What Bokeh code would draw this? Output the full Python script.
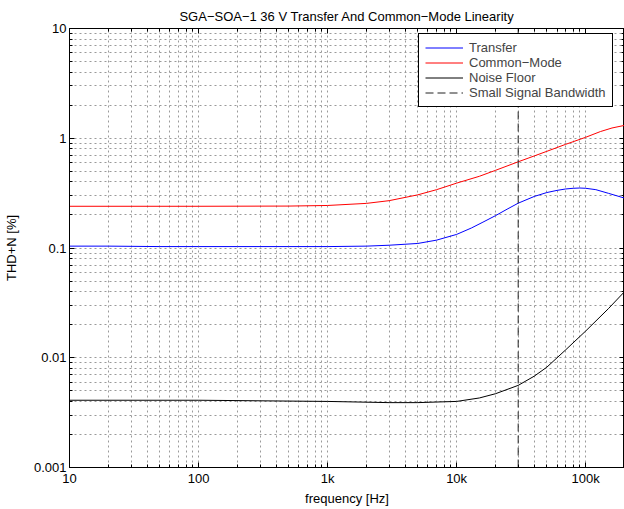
from bokeh.plotting import figure
from bokeh.models import FixedTicker, CustomJSTickFormatter, LogAxis, Legend, LegendItem
from bokeh.embed import file_html
from bokeh.resources import INLINE

# ---- data ----
freq_transfer = [10, 20, 50, 100, 200, 500, 1000, 2000, 3000, 5000, 7000, 10000, 13000, 16000,
                 20000, 25000, 30000, 40000, 50000, 60000, 70000, 80000, 90000, 100000,
                 120000, 150000, 200000]
thd_transfer = [0.104, 0.104, 0.103, 0.103, 0.103, 0.103, 0.103, 0.104, 0.106, 0.110, 0.118, 0.133,
                0.152, 0.172, 0.197, 0.228, 0.256, 0.295, 0.320, 0.335, 0.345, 0.350, 0.352,
                0.350, 0.340, 0.315, 0.285]

freq_cm = [10, 100, 500, 1000, 2000, 3000, 5000, 7000, 10000, 15000, 20000, 30000, 40000,
           50000, 70000, 100000, 130000, 160000, 200000]
thd_cm = [0.240, 0.240, 0.241, 0.244, 0.255, 0.270, 0.305, 0.340, 0.390, 0.450, 0.510, 0.610,
          0.690, 0.760, 0.880, 1.020, 1.150, 1.240, 1.310]

freq_noise = [10, 100, 1000, 3000, 5000, 7000, 10000, 15000, 20000, 30000, 40000, 50000,
              70000, 100000, 150000, 200000]
thd_noise = [0.0041, 0.0041, 0.0040, 0.0039, 0.0039, 0.00395, 0.0040, 0.0043, 0.0047, 0.0056,
             0.0068, 0.0082, 0.0118, 0.0175, 0.028, 0.040]

bandwidth_hz = 30000

x_ticks = [10, 100, 1000, 10000, 100000]
x_labels = ["10", "100", "1k", "10k", "100k"]
y_ticks = [0.001, 0.01, 0.1, 1, 10]
y_labels = ["0.001", "0.01", "0.1", "1", "10"]

x_min, x_max = 10, 200000
y_min, y_max = 0.001, 10

FONT = "Liberation Sans"
FS = "13px"

def minor_for(lo_exp, hi_exp):
    return [k * 10 ** e for e in range(lo_exp, hi_exp) for k in range(2, 10)]

x_minor = minor_for(1, 6)
y_minor = minor_for(-3, 1)

def fmt(ticks, labels):
    return CustomJSTickFormatter(args=dict(t=ticks, l=labels), code="""
        for (let i = 0; i < t.length; i++) {
            if (Math.abs(Math.log10(t[i]) - Math.log10(tick)) < 1e-6) return l[i];
        }
        return '';
    """)

p = figure(width=624, height=509, x_axis_type="log", y_axis_type="log",
           x_range=(x_min, x_max), y_range=(y_min, y_max),
           output_backend="svg", toolbar_location=None,
           title="SGA\u2212SOA\u22121 36 V Transfer And Common\u2212Mode Linearity",
           min_border_left=68, min_border_right=0, min_border_top=28, min_border_bottom=42)

p.title.align = "center"
p.title.text_font = FONT
p.title.text_font_size = FS
p.title.text_font_style = "normal"
p.title.text_color = "black"

p.outline_line_color = "black"
p.outline_line_width = 1
p.background_fill_color = "white"
p.border_fill_color = "white"

xt = FixedTicker(ticks=x_ticks, minor_ticks=x_minor)
yt = FixedTicker(ticks=y_ticks, minor_ticks=y_minor)

for ax, t, lab, tl in ((p.xaxis[0], xt, "frequency [Hz]", (x_ticks, x_labels)),
                       (p.yaxis[0], yt, "THD+N [%]", (y_ticks, y_labels))):
    ax.ticker = t
    ax.formatter = fmt(*tl)
    ax.axis_label = lab
    ax.axis_label_text_font = FONT
    ax.axis_label_text_font_size = FS
    ax.axis_label_text_font_style = "normal"
    ax.axis_label_text_color = "black"
    ax.major_label_text_font = FONT
    ax.major_label_text_font_size = FS
    ax.major_label_text_color = "black"
    ax.axis_line_color = "black"
    ax.major_tick_in = 5
    ax.major_tick_out = 0
    ax.minor_tick_in = 3
    ax.minor_tick_out = 0
    ax.major_label_standoff = 3
    ax.axis_label_standoff = 2

p.yaxis[0].axis_label_standoff = 12

empty = CustomJSTickFormatter(code="return ''")
top = LogAxis(ticker=FixedTicker(ticks=x_ticks, minor_ticks=x_minor), formatter=empty,
              major_tick_in=5, major_tick_out=0, minor_tick_in=3, minor_tick_out=0,
              axis_line_color="black", major_label_standoff=0, major_label_text_font_size="1px")
right = LogAxis(ticker=FixedTicker(ticks=y_ticks, minor_ticks=y_minor), formatter=empty,
                major_tick_in=5, major_tick_out=0, minor_tick_in=3, minor_tick_out=0,
                axis_line_color="black", major_label_standoff=0, major_label_text_font_size="1px")
p.add_layout(top, "above")
p.add_layout(right, "right")

for g in (p.xgrid[0], p.ygrid[0]):
    g.grid_line_color = "#9a9a9a"
    g.grid_line_alpha = 1
    g.grid_line_dash = "2 3"
    g.grid_line_width = 1
    g.minor_grid_line_color = "#9a9a9a"
    g.minor_grid_line_alpha = 1
    g.minor_grid_line_dash = "2 3"
    g.minor_grid_line_width = 1

r1 = p.line(freq_transfer, thd_transfer, line_color="#0000ff", line_width=1)
r2 = p.line(freq_cm, thd_cm, line_color="#ff0000", line_width=1)
r3 = p.line(freq_noise, thd_noise, line_color="black", line_width=1)
r4 = p.line([bandwidth_hz, bandwidth_hz], [y_min, y_max], line_color="#222222", line_width=1,
            line_dash="8 4")

legend = Legend(items=[LegendItem(label="Transfer", renderers=[r1]),
                       LegendItem(label="Common\u2212Mode", renderers=[r2]),
                       LegendItem(label="Noise Floor", renderers=[r3]),
                       LegendItem(label="Small Signal Bandwidth", renderers=[r4])],
                location=(349, 360))
legend.label_text_font = FONT
legend.label_text_font_size = FS
legend.label_height = 15
legend.glyph_height = 15
legend.glyph_width = 38
legend.spacing = 0
legend.padding = 6
legend.margin = 0
legend.label_standoff = 6
legend.border_line_color = "black"
legend.border_line_width = 1
legend.background_fill_alpha = 1
legend.border_line_alpha = 1
p.add_layout(legend)

open("out.html", "w").write(file_html(p, INLINE))
